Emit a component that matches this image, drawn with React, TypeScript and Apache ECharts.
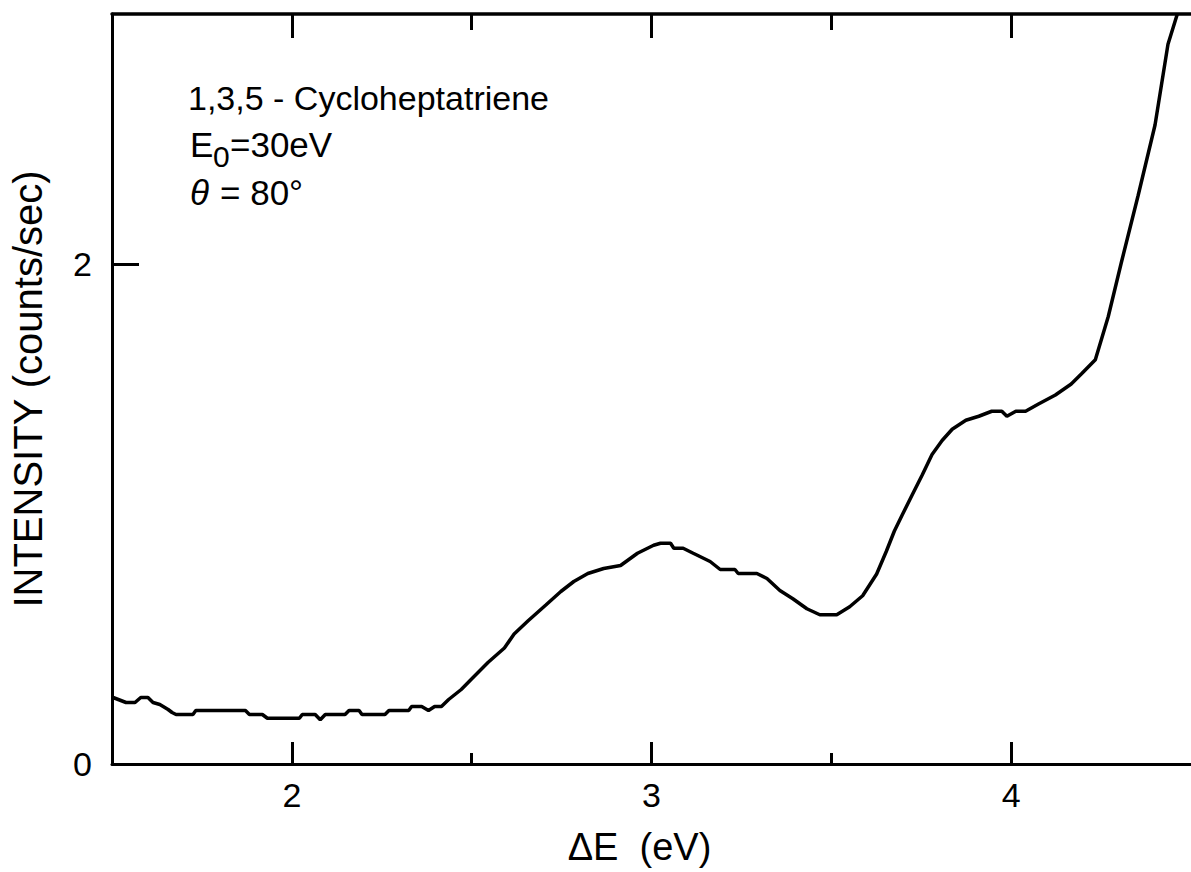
import React, { useEffect, useRef } from "react";
import * as echarts from "echarts";

// Energy loss (eV) and scattered intensity (counts/sec)
const energyLoss: number[] = [
  1.503, 1.539, 1.564, 1.58, 1.6, 1.614, 1.633, 1.656, 1.667, 1.678,
  1.725, 1.733, 1.871, 1.882, 1.918, 1.932, 2.021, 2.029, 2.065, 2.079,
  2.093, 2.148, 2.159, 2.187, 2.195, 2.259, 2.27, 2.325, 2.333, 2.361,
  2.38, 2.397, 2.416, 2.436, 2.471, 2.499, 2.546, 2.591, 2.618, 2.657,
  2.707, 2.748, 2.784, 2.823, 2.867, 2.914, 2.961, 3.006, 3.025, 3.053,
  3.062, 3.088, 3.116, 3.163, 3.191, 3.232, 3.241, 3.293, 3.321, 3.357,
  3.393, 3.432, 3.468, 3.515, 3.551, 3.587, 3.626, 3.653, 3.675, 3.697,
  3.725, 3.753, 3.78, 3.808, 3.836, 3.874, 3.91, 3.946, 3.974, 3.988,
  4.013, 4.04, 4.076, 4.123, 4.167, 4.195, 4.234, 4.27, 4.306, 4.353,
  4.4, 4.436, 4.462,
];
const intensity: number[] = [
  0.266, 0.246, 0.246, 0.266, 0.266, 0.246, 0.238, 0.218, 0.206, 0.198,
  0.198, 0.214, 0.214, 0.198, 0.198, 0.183, 0.183, 0.198, 0.198, 0.177,
  0.198, 0.198, 0.214, 0.214, 0.198, 0.198, 0.214, 0.214, 0.23, 0.23,
  0.214, 0.23, 0.23, 0.258, 0.298, 0.339, 0.407, 0.464, 0.52, 0.573,
  0.637, 0.69, 0.73, 0.762, 0.782, 0.794, 0.843, 0.875, 0.883, 0.883,
  0.863, 0.863, 0.843, 0.81, 0.778, 0.778, 0.762, 0.762, 0.742, 0.694,
  0.661, 0.621, 0.597, 0.597, 0.629, 0.673, 0.76, 0.851, 0.931, 0.996,
  1.077, 1.157, 1.238, 1.294, 1.339, 1.375, 1.391, 1.411, 1.411, 1.391,
  1.411, 1.411, 1.44, 1.476, 1.52, 1.56, 1.617, 1.79, 2.004, 2.274,
  2.556, 2.879, 3.0,
];

const xMajorTicks: number[] = [2, 3, 4];
const xMinorTicks: number[] = [2.5, 3.5];
const yLabels: number[] = [0, 2];
const yTicks: number[] = [2];

const FONT = "Liberation Sans";
const INK = "#000";

export default function App() {
  const ref = useRef<HTMLDivElement>(null);

  useEffect(() => {
    if (!ref.current) return;
    const chart = echarts.init(ref.current, null, { renderer: "svg" });

    const points = energyLoss.map((x, i) => [x, intensity[i]]);

    const baseX = {
      type: "value" as const,
      min: 1.5,
      max: 4.5,
      interval: 0.5,
      splitLine: { show: false },
    };

    chart.setOption({
      animation: false,
      backgroundColor: "#fff",
      grid: { left: 110, top: 14, width: 1084, height: 750 },
      xAxis: [
        {
          ...baseX,
          position: "bottom",
          name: "ΔE  (eV)",
          nameLocation: "middle",
          nameGap: 64,
          nameTextStyle: {
            fontFamily: FONT,
            fontSize: 38,
            color: INK,
            padding: [0, 24, 0, 0],
          },
          axisLine: { show: true, lineStyle: { color: INK, width: 3 } },
          axisTick: {
            show: true,
            inside: true,
            length: 22,
            customValues: xMajorTicks,
            lineStyle: { color: INK, width: 3 },
          },
          axisLabel: {
            show: true,
            customValues: xMajorTicks,
            margin: 14,
            fontFamily: FONT,
            fontSize: 34,
            color: INK,
          },
        },
        {
          ...baseX,
          position: "bottom",
          axisLine: { show: false },
          axisTick: {
            show: true,
            inside: true,
            length: 11,
            customValues: xMinorTicks,
            lineStyle: { color: INK, width: 3 },
          },
          axisLabel: { show: false },
        },
        {
          ...baseX,
          position: "top",
          axisLine: { show: true, lineStyle: { color: INK, width: 3.5 } },
          axisTick: {
            show: true,
            inside: true,
            length: 24,
            customValues: xMajorTicks,
            lineStyle: { color: INK, width: 3 },
          },
          axisLabel: { show: false },
        },
        {
          ...baseX,
          position: "top",
          axisLine: { show: false },
          axisTick: {
            show: true,
            inside: true,
            length: 16,
            customValues: xMinorTicks,
            lineStyle: { color: INK, width: 3 },
          },
          axisLabel: { show: false },
        },
      ],
      yAxis: {
        type: "value",
        min: 0,
        max: 3,
        interval: 1,
        position: "left",
        name: "INTENSITY (counts/sec)",
        nameLocation: "middle",
        nameGap: 64,
        nameTextStyle: { fontFamily: FONT, fontSize: 40, color: INK },
        splitLine: { show: false },
        axisLine: { show: true, lineStyle: { color: INK, width: 3 } },
        axisTick: {
          show: true,
          inside: true,
          length: 27,
          customValues: yTicks,
          lineStyle: { color: INK, width: 3 },
        },
        axisLabel: {
          show: true,
          customValues: yLabels,
          margin: 20,
          fontFamily: FONT,
          fontSize: 34,
          color: INK,
        },
      },
      graphic: [
        {
          type: "text",
          left: 188,
          top: 81,
          style: {
            text: "1,3,5 - Cycloheptatriene",
            font: `34px "${FONT}"`,
            fill: INK,
          },
        },
        {
          type: "group",
          left: 190,
          top: 127,
          children: [
            {
              type: "text",
              x: 0,
              y: 0,
              style: { text: "E", font: `35px "${FONT}"`, fill: INK },
            },
            {
              type: "text",
              x: 23,
              y: 14,
              style: { text: "0", font: `30px "${FONT}"`, fill: INK },
            },
            {
              type: "text",
              x: 40,
              y: 0,
              style: { text: "=30eV", font: `35px "${FONT}"`, fill: INK },
            },
          ],
        },
        {
          type: "group",
          left: 190,
          top: 175,
          children: [
            {
              type: "text",
              x: 0,
              y: 0,
              style: { text: "θ", font: `italic 35px "${FONT}"`, fill: INK },
            },
            {
              type: "text",
              x: 30,
              y: 0,
              style: { text: "= 80°", font: `35px "${FONT}"`, fill: INK },
            },
          ],
        },
      ],
      series: [
        {
          type: "line",
          xAxisIndex: 0,
          yAxisIndex: 0,
          data: points,
          showSymbol: false,
          symbol: "none",
          clip: true,
          lineStyle: { color: INK, width: 3.5 },
        },
      ],
    });

    return () => chart.dispose();
  }, []);

  return (
    <div
      ref={ref}
      style={{
        position: "fixed",
        left: 0,
        top: 0,
        width: 1191,
        height: 872,
        background: "#fff",
      }}
    />
  );
}
